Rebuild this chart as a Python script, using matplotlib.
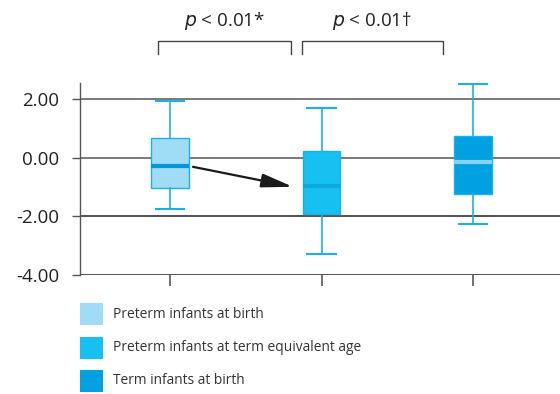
import matplotlib.pyplot as plt
from matplotlib.patches import Rectangle

plt.rcParams["font.family"] = ["Open Sans", "DejaVu Sans"]

groups = ["Preterm infants at birth", "Preterm infants at term equivalent age", "Term infants at birth"]
whislo = [-1.76, -3.28, -2.25]
q1 = [-1.04, -1.91, -1.23]
med = [-0.28, -0.97, -0.14]
q3 = [0.68, 0.22, 0.74]
whishi = [1.93, 1.71, 2.50]

fills = ["#a0dcf6", "#16c0f0", "#00a1e0"]
medians = ["#0098da", "#0aa9e2", "#86d3f2"]
edge = "#1ab0e8"

yticks = [2, 0, -2, -4]
ylabels = ["2.00", "0.00", "-2.00", "-4.00"]
pvals = ["$p$ < 0.01*", "$p$ < 0.01\u2020"]

fig = plt.figure(figsize=(5.6, 3.94), dpi=100)
ax = fig.add_axes([80 / 560, 119 / 394, 480 / 560, 192 / 394])

stats = []
for i in range(3):
    stats.append({"whislo": whislo[i], "q1": q1[i], "med": med[i], "q3": q3[i], "whishi": whishi[i]})

bp = ax.bxp(stats, positions=[1, 2, 3], widths=0.25, showfliers=False, patch_artist=True,
            boxprops=dict(edgecolor=edge, linewidth=1.0),
            whiskerprops=dict(color=edge, linewidth=1.2),
            capprops=dict(color=edge, linewidth=1.5),
            capwidths=0.19)
for box, f in zip(bp["boxes"], fills):
    box.set_facecolor(f)
for m, c in zip(bp["medians"], medians):
    m.set_color(c)
    m.set_linewidth(3)

for y in yticks:
    ax.axhline(y, color="#555555" if y >= 0 else "#222222", linewidth=1.1, zorder=0)

ax.set_xlim(0.406, 3.574)
ax.set_ylim(-4, 2.55)
ax.set_yticks(yticks)
ax.set_yticklabels(ylabels, fontsize=13.5, color="#222222")
ax.set_xticks([1, 2, 3])
ax.set_xticklabels([])
ax.tick_params(axis="x", length=8, color="#666666", width=1.3)
ax.tick_params(axis="y", length=6, color="#555555", width=1.0, pad=9)
for s in ["top", "right", "bottom"]:
    ax.spines[s].set_visible(False)
ax.spines["left"].set_color("#555555")
ax.spines["left"].set_linewidth(1.0)

# arrow between first two boxes
ax.annotate("", xy=(1.81, -0.99), xytext=(1.152, -0.31),
            arrowprops=dict(arrowstyle="-|>,head_length=1.9,head_width=0.42",
                            color="#1a1a1a", linewidth=1.6, shrinkA=0, shrinkB=0))

# significance brackets
brackets = [(0.92, 1.80), (1.87, 2.80)]
for (x0, x1), label in zip(brackets, pvals):
    ax.plot([x0, x0, x1, x1], [3.53, 3.98, 3.98, 3.53], color="#444444", linewidth=1.0, clip_on=False)
    ax.text((x0 + x1) / 2, 4.66, label, ha="center", va="center", fontsize=13.5, color="#222222", clip_on=False)

# legend
for i, (g, f) in enumerate(zip(groups, fills)):
    top = 303 + i * 33.5
    fig.add_artist(Rectangle((80 / 560, 1 - (top + 22) / 394), 23 / 560, 22 / 394,
                             transform=fig.transFigure, facecolor=f, edgecolor="none"))
    fig.text(113 / 560, 1 - (top + 11) / 394, g, ha="left", va="center", fontsize=9.9, color="#333333")

fig.savefig("out.png", dpi=100)
